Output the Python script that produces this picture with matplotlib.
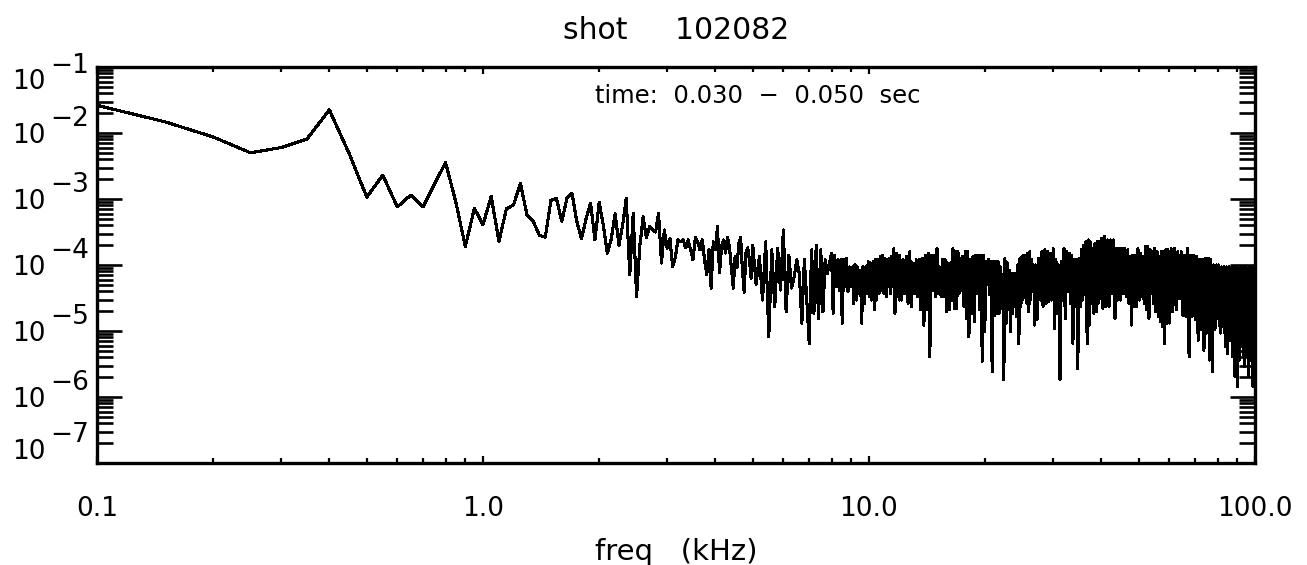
import numpy as np
import matplotlib.pyplot as plt
from matplotlib.ticker import LogLocator, FixedLocator, FixedFormatter, NullFormatter

# power spectrum, values are log10 of the amplitude
# 0.05 kHz bins (20 ms window) below 5 kHz, picks at coarser steps above that

# 0.10 .. 1.75 kHz, step 0.05
amp_lo = [-1.58, -1.83, -2.06, -2.30, -2.22, -2.09, -1.65, -2.31, -2.97, -2.64,
          -3.12, -2.94, -3.12, -2.76, -2.45, -3.04, -3.72, -3.14, -3.39, -2.96,
          -3.64, -3.15, -3.09, -2.76, -3.24, -3.34, -3.55, -3.58, -3.02, -2.99,
          -3.34, -2.99, -2.91, -3.34]

# 1.80 .. 4.95 kHz, step 0.05
amp_a = [-3.60, -3.30, -3.06, -3.62, -3.05, -3.40, -3.82, -3.60, -3.22, -3.70,
         -3.40, -2.99, -4.15, -3.22, -4.48, -3.70, -3.27, -3.59, -3.42, -3.47,
         -3.50, -3.22, -3.97, -3.47, -3.75, -3.60, -4.03, -3.88, -3.62, -3.65,
         -3.62, -3.74, -3.62, -3.77, -3.92, -3.58, -3.65, -3.77, -3.62, -3.92,
         -4.15, -3.77, -4.35, -3.65, -3.77, -3.42, -4.12, -3.72, -3.62, -3.82,
         -3.58, -3.72, -4.03, -4.35, -3.87, -4.03, -3.67, -3.58, -4.07, -4.41,
         -3.82, -3.74, -3.92, -4.20]

# 5.0 .. 7.9 kHz, step 0.1
amp_b1 = [-3.70, -4.29, -3.87, -4.53, -3.65, -5.09, -3.77, -4.63, -3.75, -4.38,
          -3.47, -4.71, -3.85, -4.35, -4.18, -3.92, -4.13, -4.88, -3.92, -4.53,
          -5.19, -3.77, -4.73, -3.70, -4.81, -3.77, -4.71, -3.92, -4.13, -3.97]

# 8.0 .. 11.975 kHz, step 0.075
amp_b2 = [-3.82, -4.73, -3.85, -4.33, -3.92, -4.38, -3.92, -4.88, -3.92, -4.33,
          -3.90, -4.40, -4.03, -4.33, -4.03, -4.58, -4.00, -4.53, -4.03, -4.43,
          -4.08, -4.88, -4.03, -4.58, -4.03, -4.43, -3.95, -4.48, -3.97, -4.53,
          -3.95, -4.68, -3.92, -4.53, -3.92, -4.43, -3.87, -4.38, -3.85, -4.43,
          -3.90, -4.48, -3.92, -4.33, -3.90, -4.43, -3.87, -4.33, -3.75, -4.73,
          -3.82, -4.48, -3.85, -4.53]

# 12.0 .. 17.875 kHz, step 0.125
amp_c1 = [-3.85, -4.53, -3.92, -4.43, -3.87, -4.58, -3.80, -4.63, -3.97, -4.43,
          -3.92, -4.48, -3.92, -4.68, -3.90, -4.91, -3.85, -4.68, -3.82, -5.39,
          -3.85, -4.38, -3.85, -4.48, -3.75, -4.43, -4.03, -4.48, -3.92, -4.48,
          -3.92, -4.71, -3.97, -4.68, -3.97, -4.53, -3.75, -4.66, -3.80, -4.66,
          -3.80, -4.43, -3.90, -4.38, -3.87, -4.63, -3.80, -4.81]

# 18.0 .. 26.85 kHz, step 0.15
amp_c2 = [-3.80, -5.09, -3.92, -4.73, -3.87, -4.86, -3.85, -4.43, -3.85, -4.68,
          -3.85, -5.46, -3.85, -5.01, -3.95, -4.30, -3.92, -4.45, -3.95, -5.62,
          -3.95, -4.76, -3.95, -4.73, -3.95, -4.73, -4.03, -4.63, -4.15, -5.74,
          -3.90, -4.88, -3.97, -4.55, -4.08, -5.01, -4.13, -4.73, -4.13, -4.63,
          -4.13, -4.78, -4.00, -5.19, -3.90, -4.63, -3.87, -4.53, -3.85, -4.45,
          -3.85, -4.58, -3.82, -4.71, -3.80, -4.53, -3.92, -4.40, -4.00, -4.91]

# 27.0 .. 39.75 kHz, step 0.25
amp_c3 = [-4.00, -4.83, -3.90, -4.53, -3.80, -4.63, -3.77, -4.58, -3.80, -4.55,
          -3.82, -4.53, -3.75, -4.96, -3.92, -4.73, -4.00, -5.74, -3.95, -4.53,
          -3.75, -4.81, -3.80, -4.40, -3.82, -4.58, -3.85, -5.19, -3.92, -4.63,
          -3.92, -5.57, -3.90, -4.63, -3.77, -4.53, -3.70, -4.45, -3.65, -5.19,
          -3.62, -4.91, -3.65, -4.58, -3.75, -4.73, -3.67, -4.71, -3.65, -4.58,
          -3.65, -4.51]

# 40.0 .. 59.5 kHz, step 0.375
amp_d1 = [-3.60, -4.66, -3.57, -4.63, -3.62, -4.63, -3.62, -4.43, -3.62, -4.81,
          -3.75, -4.53, -3.75, -4.53, -3.75, -4.43, -3.75, -4.48, -3.77, -4.58,
          -3.87, -4.91, -3.85, -4.63, -3.85, -4.63, -3.75, -4.53, -3.82, -4.48,
          -3.87, -4.58, -3.72, -4.68, -3.72, -4.81, -3.77, -4.43, -3.80, -4.58,
          -3.75, -4.71, -3.80, -4.78, -3.87, -4.86, -3.80, -4.93, -3.80, -5.19,
          -3.77, -4.88, -3.77]

# 60.0 .. 100.0 kHz, step 0.625
amp_d2 = [-4.88, -3.75, -4.71, -3.75, -4.68, -3.80, -4.51, -3.80, -4.76, -3.85,
          -4.78, -3.75, -5.39, -3.85, -4.78, -3.85, -4.83, -3.87, -5.14, -3.92,
          -4.98, -3.92, -5.29, -3.90, -5.03, -3.90, -5.44, -3.92, -5.62, -4.00,
          -4.98, -4.00, -4.81, -4.00, -5.03, -4.03, -4.93, -4.03, -5.24, -4.03,
          -5.34, -4.03, -5.14, -4.03, -5.39, -4.03, -5.69, -4.03, -5.84, -4.05,
          -5.44, -4.03, -5.24, -4.03, -5.54, -4.03, -5.39, -4.05, -5.69, -4.03,
          -5.44, -4.03, -5.84, -4.05, -5.44]

starts = [0.10, 1.80, 5.0, 8.0, 12.0, 18.0, 27.0, 40.0, 60.0]
steps = [0.05, 0.05, 0.1, 0.075, 0.125, 0.15, 0.25, 0.375, 0.625]
pieces = [amp_lo, amp_a, amp_b1, amp_b2, amp_c1, amp_c2, amp_c3, amp_d1, amp_d2]

freq = np.concatenate([s + d * np.arange(len(p)) for s, d, p in zip(starts, steps, pieces)])
power = 10.0 ** np.concatenate(pieces)

decades = [-1, -2, -3, -4, -5, -6, -7]
xticks = [0.1, 1.0, 10.0, 100.0]
xlabels = ['0.1', '1.0', '10.0', '100.0']

plt.rcParams['font.family'] = 'DejaVu Sans'

fig = plt.figure(figsize=(13.07, 5.65), dpi=100)
ax = fig.add_axes([0.0742, 0.1805, 0.886, 0.7009])

# hard pixel line like the original device plot
ax.plot(freq, power, color='black', lw=1.5, antialiased=False)
ax.set_xscale('log')
ax.set_yscale('log')
ax.set_xlim(0.1, 100)
ax.set_ylim(1e-7, 1e-1)

for s in ax.spines.values():
    s.set_linewidth(2.4)

ax.xaxis.set_major_locator(FixedLocator(xticks))
ax.xaxis.set_major_formatter(FixedFormatter(xlabels))
ax.xaxis.set_minor_locator(LogLocator(base=10, subs=range(2, 10)))
ax.xaxis.set_minor_formatter(NullFormatter())
ax.yaxis.set_major_locator(LogLocator(base=10, numticks=20))
ax.yaxis.set_minor_locator(LogLocator(base=10, subs=range(2, 10), numticks=20))
ax.yaxis.set_major_formatter(NullFormatter())
ax.yaxis.set_minor_formatter(NullFormatter())

ax.tick_params(axis='both', which='both', direction='in', top=True, right=True, color='black')
ax.tick_params(axis='x', which='major', length=5, width=1.6, labelsize=19, pad=24)
ax.tick_params(axis='x', which='minor', length=3.5, width=1.6)
ax.tick_params(axis='y', which='major', length=18, width=1.9)
ax.tick_params(axis='y', which='minor', length=11.5, width=1.9)

# y labels in the "10" + raised exponent style
for k in decades:
    dy = -2
    if k == -1:
        dy = -11
    elif k == -7:
        dy = 8
    ax.annotate('10', xy=(0, 10.0 ** k), xycoords=('axes fraction', 'data'),
                xytext=(-37, dy), textcoords='offset points',
                ha='right', va='center', fontsize=19, annotation_clip=False)
    ax.annotate('\u2212' + str(-k), xy=(0, 10.0 ** k), xycoords=('axes fraction', 'data'),
                xytext=(-34, dy + 12), textcoords='offset points',
                ha='left', va='center', fontsize=19, annotation_clip=False)

ax.set_title('shot     102082', fontsize=21.5, pad=20)
ax.text(0.430, 0.927, 'time:  0.030  \u2212  0.050  sec', transform=ax.transAxes,
        fontsize=17.5, ha='left', va='center')
ax.set_xlabel('freq   (kHz)', fontsize=21, labelpad=11)

fig.savefig('out.png', dpi=100)
